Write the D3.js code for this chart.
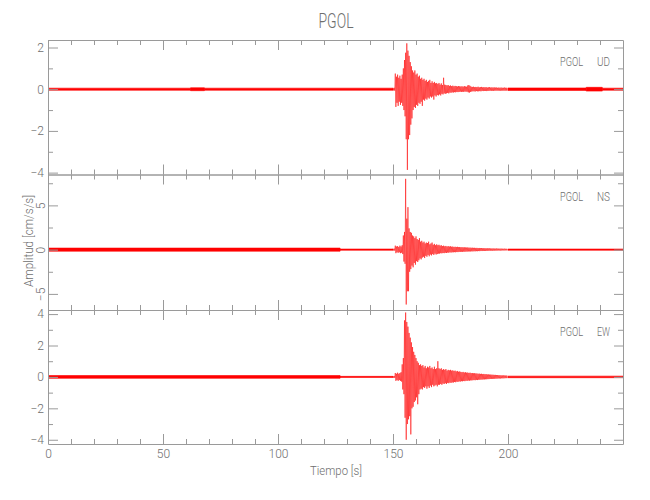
<!DOCTYPE html>
<html><head><meta charset="utf-8">
<script src="https://cdn.jsdelivr.net/npm/d3@7"></script>
<style>
body{margin:0;background:#fff}
text{font-family:Roboto,"Liberation Sans",sans-serif;font-weight:300;fill:#6e6e6e}
</style>
</head><body>
<svg id="c" width="650" height="500"></svg>
<script>
// ---------- data ----------
const station = "PGOL";
const components = ["UD", "NS", "EW"];
const timeDomain = [0, 250];
const xMajor = [0, 50, 100, 150, 200];
const xMinor = [10,20,30,40,60,70,80,90,110,120,130,140,160,170,180,190,210,220,230,240];

const udDomain = [-4.09, 2.36];
const nsDomain = [-6.82, 8.49];
const ewDomain = [-4.27, 4.26];
const udMajor = [-4, -2, 0, 2];
const udMinor = [-3, -1, 1];
const nsMajor = [-5, 0, 5];
const nsMinor = [-2.5, 2.5, 7.5];
const ewMajor = [-4, -2, 0, 2, 4];
const ewMinor = [-3, -1, 1, 3];

// background noise level (half band width) per time segment
const udNoiseStart = [0, 62, 68, 200, 234, 241];
const udNoiseEnd   = [62, 68, 150, 234, 241, 250];
const udNoiseAmp   = [0.05, 0.07, 0.05, 0.06, 0.09, 0.05];
const nsNoiseStart = [0, 127, 200];
const nsNoiseEnd   = [127, 150, 250];
const nsNoiseAmp   = [0.18, 0.07, 0.07];
const ewNoiseStart = [0, 127, 200];
const ewNoiseEnd   = [127, 150, 250];
const ewNoiseAmp   = [0.09, 0.035, 0.05];

// event window: max/min per 0.5 s bin starting at 150 s
const eventStart = 150;
const eventStep = 0.5;
const udHi = [0.06,0.07,0.75,0.6,0.7,0.55,0.65,0.5,0.7,1.0,
1.4,1.75,2.2,1.85,1.6,1.3,1.1,0.9,0.8,0.9,
0.7,0.75,0.6,0.65,0.5,0.55,0.45,0.5,0.4,0.45,
0.35,0.4,0.45,0.3,0.38,0.3,0.35,0.28,0.3,0.25,
0.3,0.22,0.28,0.2,0.55,0.22,0.2,0.18,0.2,0.16,
0.18,0.15,0.17,0.14,0.16,0.15,0.13,0.15,0.14,0.13,
0.14,0.12,0.15,0.13,0.12,0.18,0.2,0.16,0.12,0.11,
0.12,0.1,0.11,0.1,0.12,0.09,0.1,0.11,0.09,0.1,
0.09,0.1,0.08,0.09,0.1,0.08,0.09,0.08,0.09,0.08,
0.08,0.07,0.08,0.07,0.08,0.07,0.07,0.08,0.07,0.07];
const udLo = [-0.06,-0.07,-0.85,-0.65,-0.8,-0.6,-0.75,-0.65,-0.8,-1.0,
-1.3,-2.4,-3.87,-2.4,-2.2,-1.7,-1.4,-1.0,-0.85,-0.9,
-0.75,-0.8,-0.65,-0.7,-0.6,-0.8,-0.5,-0.55,-0.45,-0.5,
-0.4,-0.45,-0.35,-0.4,-0.35,-0.5,-0.3,-0.35,-0.28,-0.3,
-0.25,-0.3,-0.22,-0.25,-0.2,-0.22,-0.2,-0.18,-0.2,-0.16,
-0.17,-0.15,-0.16,-0.14,-0.15,-0.13,-0.14,-0.13,-0.12,-0.13,
-0.12,-0.13,-0.11,-0.12,-0.12,-0.15,-0.16,-0.13,-0.11,-0.1,
-0.1,-0.11,-0.09,-0.1,-0.1,-0.09,-0.1,-0.08,-0.09,-0.08,
-0.08,-0.09,-0.08,-0.08,-0.07,-0.08,-0.07,-0.08,-0.07,-0.07,
-0.07,-0.07,-0.07,-0.07,-0.07,-0.07,-0.07,-0.07,-0.07,-0.07];
const nsHi = [0.1,0.12,0.45,0.35,0.4,0.3,0.45,0.35,0.5,1.6,
2.0,8.0,3.5,4.8,2.4,2.0,1.9,1.6,1.5,1.3,
1.5,1.2,1.1,1.3,0.9,1.0,0.8,0.9,0.7,0.8,
0.75,0.9,0.6,0.7,0.8,0.55,0.65,0.5,0.6,0.5,
0.55,0.45,0.5,0.4,0.45,0.38,0.42,0.35,0.4,0.35,
0.38,0.33,0.35,0.3,0.33,0.3,0.32,0.28,0.3,0.27,
0.28,0.26,0.27,0.25,0.24,0.25,0.22,0.23,0.21,0.22,
0.2,0.21,0.19,0.2,0.18,0.19,0.17,0.18,0.16,0.17,
0.16,0.15,0.16,0.14,0.15,0.14,0.13,0.14,0.13,0.12,
0.13,0.12,0.12,0.11,0.12,0.11,0.1,0.11,0.1,0.1];
const nsLo = [-0.1,-0.12,-0.4,-0.3,-0.35,-0.3,-0.4,-0.35,-0.5,-1.35,
-1.6,-6.2,-4.7,-4.7,-2.5,-2.2,-1.8,-2.0,-1.5,-1.7,
-1.3,-1.4,-1.2,-1.0,-1.1,-0.9,-0.8,-0.95,-0.7,-0.8,
-0.6,-0.75,-0.55,-0.65,-0.5,-0.6,-0.45,-0.55,-0.5,-0.45,
-0.45,-0.4,-0.42,-0.38,-0.4,-0.35,-0.38,-0.33,-0.35,-0.3,
-0.33,-0.3,-0.3,-0.28,-0.3,-0.27,-0.28,-0.25,-0.26,-0.24,
-0.25,-0.23,-0.24,-0.22,-0.22,-0.21,-0.2,-0.21,-0.19,-0.2,
-0.18,-0.19,-0.17,-0.18,-0.16,-0.17,-0.15,-0.16,-0.15,-0.14,
-0.14,-0.13,-0.14,-0.12,-0.13,-0.12,-0.12,-0.11,-0.12,-0.11,
-0.11,-0.1,-0.1,-0.1,-0.1,-0.09,-0.1,-0.09,-0.09,-0.09];
const ewHi = [0.05,0.06,0.25,0.2,0.27,0.2,0.25,0.3,0.8,1.2,
3.6,4.1,3.5,3.2,2.8,2.5,2.2,1.9,1.6,1.4,
1.2,1.0,0.9,0.75,0.8,0.7,0.75,0.6,0.7,0.55,
0.65,0.6,0.7,0.55,0.6,0.5,0.65,0.5,0.55,1.0,
0.55,0.5,0.55,0.45,0.5,0.45,0.5,0.4,0.45,0.42,
0.45,0.4,0.42,0.38,0.4,0.35,0.38,0.33,0.35,0.32,
0.3,0.32,0.28,0.3,0.27,0.28,0.25,0.27,0.24,0.25,
0.23,0.24,0.22,0.22,0.2,0.21,0.19,0.2,0.18,0.19,
0.17,0.18,0.16,0.16,0.15,0.15,0.14,0.14,0.13,0.13,
0.12,0.12,0.11,0.11,0.1,0.1,0.1,0.09,0.09,0.09];
const ewLo = [-0.05,-0.06,-0.25,-0.2,-0.25,-0.2,-0.25,-0.3,-0.8,-1.1,
-2.6,-4.0,-3.0,-2.7,-2.5,-3.66,-2.0,-1.9,-1.6,-1.5,
-1.3,-1.74,-1.1,-0.8,-0.75,-0.8,-0.65,-0.7,-0.6,-0.75,
-0.6,-0.7,-0.55,-0.65,-0.5,-0.6,-0.55,-0.5,-0.6,-0.5,
-0.5,-0.45,-0.5,-0.42,-0.45,-0.4,-0.45,-0.38,-0.4,-0.36,
-0.38,-0.35,-0.36,-0.32,-0.34,-0.3,-0.32,-0.28,-0.3,-0.27,
-0.28,-0.26,-0.27,-0.24,-0.25,-0.23,-0.24,-0.22,-0.22,-0.21,
-0.2,-0.21,-0.19,-0.2,-0.18,-0.18,-0.17,-0.17,-0.16,-0.16,
-0.15,-0.15,-0.14,-0.14,-0.13,-0.13,-0.12,-0.12,-0.12,-0.11,
-0.11,-0.1,-0.1,-0.1,-0.09,-0.09,-0.09,-0.08,-0.08,-0.08];

// ---------- drawing ----------
const svg = d3.select("#c");
const AX = "#9a9a9a";
const L = 48, R = 623;
const x = d3.scaleLinear().domain(timeDomain).range([L, R]);
const layout = [{top: 40, bottom: 174.5}, {top: 174.5, bottom: 310}, {top: 310, bottom: 444}];

const panels = [
  {domain: udDomain, major: udMajor, minor: udMinor, hi: udHi, lo: udLo, nS: udNoiseStart, nE: udNoiseEnd, nA: udNoiseAmp, rot: false},
  {domain: nsDomain, major: nsMajor, minor: nsMinor, hi: nsHi, lo: nsLo, nS: nsNoiseStart, nE: nsNoiseEnd, nA: nsNoiseAmp, rot: true},
  {domain: ewDomain, major: ewMajor, minor: ewMinor, hi: ewHi, lo: ewLo, nS: ewNoiseStart, nE: ewNoiseEnd, nA: ewNoiseAmp, rot: false}
];

function styleAxis(sel) {
  sel.select(".domain").attr("stroke", AX).attr("stroke-width", 1);
  sel.selectAll(".tick line").attr("stroke", AX).attr("stroke-width", 1);
  sel.selectAll(".tick text").attr("fill", "#6e6e6e").style("font-size", "12px")
     .style("font-family", "Roboto, 'Liberation Sans', sans-serif").style("font-weight", 300);
}
const intFmt = d3.format("d");

panels.forEach((p, k) => {
  const lay = layout[k];
  const y = d3.scaleLinear().domain(p.domain).range([lay.bottom, lay.top]);
  const cid = "clip" + k;
  svg.append("clipPath").attr("id", cid).append("rect")
    .attr("x", L).attr("y", lay.top).attr("width", R - L).attr("height", lay.bottom - lay.top);
  const gT = svg.append("g").attr("clip-path", `url(#${cid})`);

  // noise bands
  const area = d3.area().x(d => x(d.t)).y0(d => y(-d.a)).y1(d => y(d.a));
  p.nS.forEach((s, i) => {
    gT.append("path")
      .attr("d", area([{t: s, a: p.nA[i]}, {t: p.nE[i], a: p.nA[i]}]))
      .attr("fill", "#ff0000").attr("stroke", "#ff0000").attr("stroke-width", 0.6);
  });

  // event: max/min zigzag per bin
  const pts = [];
  p.hi.forEach((h, i) => {
    const t = eventStart + i * eventStep;
    pts.push([t, h]);
    pts.push([t + eventStep / 2, p.lo[i]]);
  });
  gT.append("path")
    .attr("d", d3.line().x(d => x(d[0])).y(d => y(d[1]))(pts))
    .attr("fill", "none").attr("stroke", "#ff0000").attr("stroke-width", 0.55)
    .attr("stroke-linejoin", "bevel");

  // x axes (top & bottom of each panel, ticks inward)
  const gb = svg.append("g").attr("transform", `translate(0,${lay.bottom})`)
    .call(d3.axisBottom(x).tickValues(xMajor).tickSize(-10).tickSizeOuter(0).tickPadding(5)
      .tickFormat(k === 2 ? intFmt : () => ""));
  styleAxis(gb);
  const gbm = svg.append("g").attr("transform", `translate(0,${lay.bottom})`)
    .call(d3.axisBottom(x).tickValues(xMinor).tickSize(-5).tickSizeOuter(0).tickFormat(""));
  styleAxis(gbm); gbm.select(".domain").remove();
  const gt = svg.append("g").attr("transform", `translate(0,${lay.top})`)
    .call(d3.axisTop(x).tickValues(xMajor).tickSize(-10).tickSizeOuter(0).tickFormat(""));
  styleAxis(gt);
  const gtm = svg.append("g").attr("transform", `translate(0,${lay.top})`)
    .call(d3.axisTop(x).tickValues(xMinor).tickSize(-5).tickSizeOuter(0).tickFormat(""));
  styleAxis(gtm); gtm.select(".domain").remove();

  // y axes
  const gl = svg.append("g").attr("transform", `translate(${L},0)`)
    .call(d3.axisLeft(y).tickValues(p.major).tickSize(-10).tickSizeOuter(0).tickPadding(4).tickFormat(intFmt));
  styleAxis(gl);
  if (p.rot) {
    gl.selectAll(".tick text").attr("transform", "rotate(-90)")
      .attr("x", 0).attr("y", -3).attr("dy", 0).attr("text-anchor", "middle");
  }
  const glm = svg.append("g").attr("transform", `translate(${L},0)`)
    .call(d3.axisLeft(y).tickValues(p.minor).tickSize(-5).tickSizeOuter(0).tickFormat(""));
  styleAxis(glm); glm.select(".domain").remove();
  const gr = svg.append("g").attr("transform", `translate(${R},0)`)
    .call(d3.axisRight(y).tickValues(p.major).tickSize(-9).tickSizeOuter(0).tickFormat(""));
  styleAxis(gr);
  const grm = svg.append("g").attr("transform", `translate(${R},0)`)
    .call(d3.axisRight(y).tickValues(p.minor).tickSize(-5).tickSizeOuter(0).tickFormat(""));
  styleAxis(grm); grm.select(".domain").remove();

  // component label
  const ly = lay.top + 26;
  svg.append("text").attr("x", 560).attr("y", ly).style("font-size", "13px")
    .attr("textLength", 23).attr("lengthAdjust", "spacingAndGlyphs").text(station);
  svg.append("text").attr("x", 597).attr("y", ly).style("font-size", "13px")
    .attr("textLength", 13).attr("lengthAdjust", "spacingAndGlyphs").text(components[k]);
});

// title and axis titles
svg.append("text").attr("x", 336).attr("y", 28).attr("text-anchor", "middle")
  .style("font-size", "21px").attr("textLength", 35).attr("lengthAdjust", "spacingAndGlyphs").text(station);
svg.append("text").attr("x", 336).attr("y", 475).attr("text-anchor", "middle")
  .style("font-size", "13px").attr("textLength", 52).attr("lengthAdjust", "spacingAndGlyphs").text("Tiempo [s]");
svg.append("text").attr("transform", "translate(33,241) rotate(-90)").attr("text-anchor", "middle")
  .style("font-size", "13px").attr("textLength", 92).attr("lengthAdjust", "spacingAndGlyphs").text("Amplitud [cm/s/s]");
</script>
</body></html>
